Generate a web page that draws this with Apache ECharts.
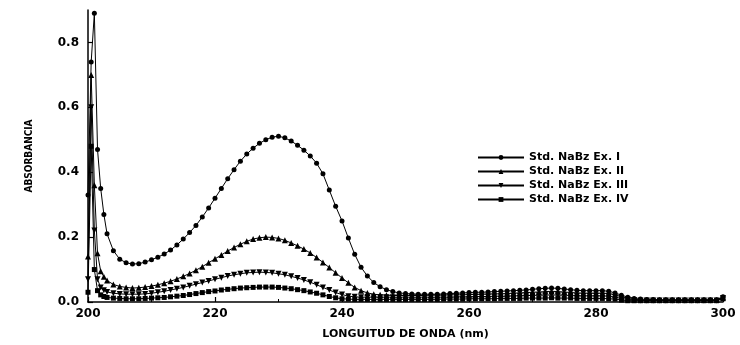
<!DOCTYPE html>
<html lang="es">
<head>
<meta charset="UTF-8">
<title>Absorbancia NaBz</title>
<script src="https://cdn.jsdelivr.net/npm/echarts@6/dist/echarts.min.js"></script>
<style>
  body { margin: 0; background: #fff; }
  #main { width: 740px; height: 345px; }
</style>
</head>
<body>
<div id="main"></div>
<script type="text/javascript">
// longitud de onda (nm)
var wavelength = [200, 200.5, 201, 201.5, 202, 202.5,
  203, 204, 205, 206, 207, 208, 209, 210, 211, 212,
  213, 214, 215, 216, 217, 218, 219, 220, 221, 222,
  223, 224, 225, 226, 227, 228, 229, 230, 231, 232,
  233, 234, 235, 236, 237, 238, 239, 240, 241, 242,
  243, 244, 245, 246, 247, 248, 249, 250, 251, 252,
  253, 254, 255, 256, 257, 258, 259, 260, 261, 262,
  263, 264, 265, 266, 267, 268, 269, 270, 271, 272,
  273, 274, 275, 276, 277, 278, 279, 280, 281, 282,
  283, 284, 285, 286, 287, 288, 289, 290, 291, 292,
  293, 294, 295, 296, 297, 298, 299, 300];

var exI = [0.33, 0.74, 0.89, 0.47, 0.35, 0.27,
  0.21, 0.158, 0.132, 0.121, 0.117, 0.118, 0.123, 0.13, 0.138, 0.148,
  0.16, 0.176, 0.194, 0.214, 0.236, 0.262, 0.29, 0.32, 0.35, 0.38,
  0.408, 0.434, 0.456, 0.474, 0.489, 0.5, 0.508, 0.511, 0.506, 0.496,
  0.483, 0.468, 0.45, 0.428, 0.395, 0.345, 0.295, 0.25, 0.197, 0.147,
  0.107, 0.08, 0.06, 0.047, 0.038, 0.032, 0.028, 0.026, 0.025, 0.024,
  0.024, 0.024, 0.024, 0.025, 0.026, 0.027, 0.028, 0.029, 0.03, 0.03,
  0.031, 0.032, 0.033, 0.034, 0.035, 0.036, 0.037, 0.039, 0.041, 0.042,
  0.043, 0.042, 0.04, 0.038, 0.036, 0.035, 0.035, 0.035, 0.035, 0.033,
  0.028, 0.021, 0.015, 0.011, 0.009, 0.008, 0.008, 0.007, 0.007, 0.007,
  0.007, 0.007, 0.007, 0.007, 0.007, 0.007, 0.007, 0.016];

var exII = [0.14, 0.70, 0.36, 0.15, 0.095, 0.078,
  0.066, 0.054, 0.048, 0.045, 0.043, 0.044, 0.046, 0.049, 0.053, 0.058,
  0.064, 0.071, 0.079, 0.088, 0.098, 0.109, 0.121, 0.133, 0.145, 0.157,
  0.168, 0.178, 0.187, 0.194, 0.198, 0.2, 0.199, 0.196, 0.19, 0.182,
  0.173, 0.163, 0.151, 0.137, 0.122, 0.106, 0.09, 0.074, 0.059, 0.045,
  0.035, 0.028, 0.024, 0.022, 0.021, 0.02, 0.02, 0.02, 0.02, 0.02,
  0.02, 0.021, 0.021, 0.021, 0.022, 0.022, 0.022, 0.023, 0.023, 0.024,
  0.024, 0.025, 0.025, 0.026, 0.027, 0.028, 0.029, 0.03, 0.031, 0.032,
  0.033, 0.032, 0.031, 0.029, 0.028, 0.027, 0.027, 0.027, 0.027, 0.026,
  0.022, 0.016, 0.011, 0.008, 0.007, 0.006, 0.006, 0.006, 0.006, 0.006,
  0.006, 0.006, 0.006, 0.006, 0.006, 0.006, 0.006, 0.014];

var exIII = [0.07, 0.60, 0.22, 0.07, 0.045, 0.036,
  0.031, 0.027, 0.025, 0.024, 0.024, 0.024, 0.025, 0.027, 0.03, 0.033,
  0.037, 0.041, 0.045, 0.05, 0.055, 0.06, 0.065, 0.07, 0.075, 0.08,
  0.084, 0.087, 0.09, 0.091, 0.092, 0.091, 0.09, 0.087, 0.084, 0.079,
  0.074, 0.068, 0.061, 0.053, 0.045, 0.037, 0.029, 0.023, 0.018, 0.016,
  0.015, 0.015, 0.015, 0.015, 0.015, 0.015, 0.015, 0.015, 0.015, 0.015,
  0.015, 0.015, 0.015, 0.015, 0.015, 0.016, 0.016, 0.016, 0.017, 0.017,
  0.017, 0.018, 0.018, 0.018, 0.019, 0.019, 0.02, 0.02, 0.021, 0.021,
  0.022, 0.021, 0.021, 0.02, 0.019, 0.019, 0.019, 0.019, 0.019, 0.018,
  0.015, 0.011, 0.008, 0.006, 0.005, 0.005, 0.005, 0.005, 0.005, 0.005,
  0.005, 0.005, 0.005, 0.005, 0.005, 0.005, 0.005, 0.012];

var exIV = [0.03, 0.48, 0.10, 0.035, 0.022, 0.017,
  0.014, 0.012, 0.011, 0.01, 0.01, 0.01, 0.011, 0.012, 0.013, 0.014,
  0.016, 0.018, 0.02, 0.023, 0.026, 0.029, 0.032, 0.034, 0.037, 0.039,
  0.041, 0.043, 0.044, 0.045, 0.046, 0.046, 0.046, 0.045, 0.043, 0.041,
  0.038, 0.035, 0.031, 0.027, 0.022, 0.017, 0.013, 0.01, 0.009, 0.008,
  0.008, 0.008, 0.008, 0.008, 0.008, 0.008, 0.008, 0.008, 0.008, 0.008,
  0.008, 0.008, 0.008, 0.009, 0.009, 0.009, 0.009, 0.01, 0.01, 0.01,
  0.01, 0.01, 0.011, 0.011, 0.011, 0.011, 0.012, 0.012, 0.012, 0.012,
  0.013, 0.012, 0.012, 0.012, 0.011, 0.011, 0.011, 0.011, 0.011, 0.01,
  0.009, 0.006, 0.004, 0.004, 0.004, 0.004, 0.004, 0.004, 0.004, 0.004,
  0.004, 0.004, 0.004, 0.004, 0.004, 0.004, 0.004, 0.01];

var seriesNames = ['Std. NaBz Ex. I', 'Std. NaBz Ex. II', 'Std. NaBz Ex. III', 'Std. NaBz Ex. IV'];
var xTicks = [200, 220, 240, 260, 280, 300];

var font = 'DejaVu Sans';

function pairs(vals) {
  return wavelength.map(function (w, i) { return [w, vals[i]]; });
}

function makeSeries(name, vals, symbol, size, rotate) {
  return {
    name: name,
    type: 'line',
    data: pairs(vals),
    symbol: symbol,
    symbolSize: size,
    symbolRotate: rotate || 0,
    showAllSymbol: true,
    lineStyle: { color: '#000', width: 1 },
    itemStyle: { color: '#000', borderWidth: 0 },
    emphasis: { disabled: true },
    animation: false
  };
}

var myChart = echarts.init(document.getElementById('main'));

var option = {
  backgroundColor: '#fff',
  animation: false,
  grid: { left: 88, right: 17, top: 10, bottom: 42 },
  legend: {
    orient: 'vertical',
    left: 472,
    top: 147,
    itemWidth: 46,
    itemHeight: 6,
    itemGap: 3,
    textStyle: { fontFamily: font, fontWeight: 'bold', fontSize: 11, color: '#000' },
    data: seriesNames
  },
  xAxis: {
    type: 'value',
    min: 200,
    max: 300,
    interval: 20,
    name: 'LONGUITUD DE ONDA (nm)',
    nameLocation: 'middle',
    nameGap: 27,
    nameTextStyle: { fontFamily: font, fontWeight: 'bold', fontSize: 11, color: '#000' },
    axisLine: { lineStyle: { color: '#000', width: 1.5 } },
    axisTick: { inside: true, length: 5, lineStyle: { color: '#000', width: 1.2 } },
    minorTick: { show: true, splitNumber: 2, length: 3, lineStyle: { color: '#000' } },
    splitLine: { show: false },
    axisLabel: {
      fontFamily: font, fontWeight: 'bold', fontSize: 12, color: '#000', margin: 6,
      formatter: function (v) { return xTicks.indexOf(v) >= 0 ? String(v) : ''; }
    }
  },
  yAxis: {
    type: 'value',
    min: 0,
    max: 0.9,
    interval: 0.2,
    name: 'ABSORBANCIA',
    nameLocation: 'middle',
    nameGap: 54,
    nameRotate: 90,
    nameTextStyle: {
      fontFamily: "'DejaVu Sans Condensed', 'Liberation Sans Narrow', 'Liberation Sans', sans-serif",
      fontWeight: 'bold', fontSize: 10, color: '#000'
    },
    axisLine: { lineStyle: { color: '#000', width: 1.5 } },
    axisTick: { inside: true, length: 5, lineStyle: { color: '#000', width: 1.2 } },
    splitLine: { show: false },
    axisLabel: {
      fontFamily: font, fontWeight: 'bold', fontSize: 12, color: '#000', margin: 9,
      showMaxLabel: false,
      formatter: function (v) { return v.toFixed(1); }
    }
  },
  series: [
    makeSeries(seriesNames[0], exI, 'circle', 5),
    makeSeries(seriesNames[1], exII, 'triangle', 6),
    makeSeries(seriesNames[2], exIII, 'triangle', 6, 180),
    makeSeries(seriesNames[3], exIV, 'rect', 5)
  ]
};

myChart.setOption(option);
</script>
</body>
</html>
